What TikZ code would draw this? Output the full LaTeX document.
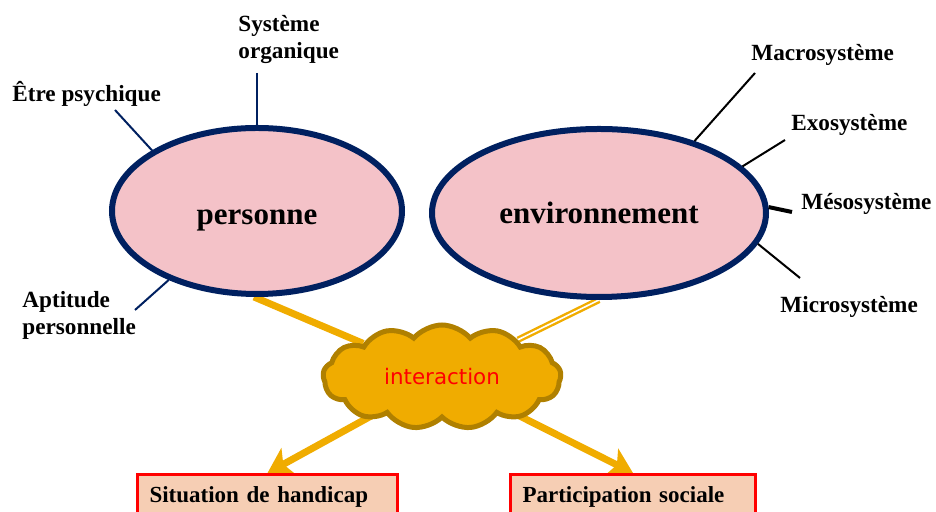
\documentclass[tikz,border=0pt]{standalone}
\usepackage{fontspec}
\setmainfont{Liberation Serif}
\newfontfamily\interfont{DejaVu Sans}
\usetikzlibrary{arrows.meta,shapes.geometric,shapes.symbols,backgrounds}
\definecolor{navyline}{RGB}{0,32,96}
\definecolor{pinkfill}{RGB}{244,194,200}
\definecolor{goldlink}{RGB}{240,172,0}
\definecolor{goldrim}{RGB}{176,128,0}
\definecolor{peachfill}{RGB}{246,206,180}
\newcommand{\lblfont}{\fontsize{11.6}{13.5}\selectfont\bfseries}

\begin{document}
\begin{tikzpicture}[x=0.5pt,y=0.5pt,>={Stealth[length=12pt,width=15pt,inset=3pt]},
  sphere/.style={ellipse,draw=navyline,line width=3pt,fill=pinkfill,font=\fontsize{15.5}{18}\selectfont\bfseries},
  tag/.style={anchor=west,inner sep=0pt,align=left,font=\lblfont},
  outcome/.style={anchor=north,draw=red,line width=1.5pt,fill=peachfill,inner xsep=6pt,inner ysep=3pt,text height=11pt,text depth=14pt,align=left,font=\fontsize{11.5}{13}\selectfont\bfseries},
  link/.style={goldlink,line width=3.5pt},
  leg/.style={navyline,line width=1pt},
  rim/.style={black,line width=1pt}]
\useasboundingbox (0,0) rectangle (936,512);
\node[sphere,minimum width=145pt,minimum height=83pt,text height=14pt,text depth=0pt] (personne) at (257,301) {personne};
\node[sphere,minimum width=167pt,minimum height=84pt] (environnement) at (599,299) {environnement};
\node[cloud,cloud puffs=13,cloud puff arc=100,aspect=2.2,draw=goldrim,line width=2.5pt,fill=goldlink,minimum width=119pt,minimum height=52pt,text=red,font=\interfont\fontsize{10.7}{13}\selectfont] (interaction) at (442,135) {interaction};
\node[outcome,text width=118pt] (situation) at (267.5,39) {Situation de handicap};
\node[outcome,text width=110.5pt] (participation) at (633,39) {Participation sociale};
\node[tag] (organique) at (238,472) {Système\\organique};
\node[tag] (psychique) at (12,418) {Être psychique};
\node[tag] (aptitude) at (22,197) {Aptitude\\personnelle};
\node[tag] (macro) at (751,457) {Macrosystème};
\node[tag] (exo) at (791,387) {Exosystème};
\node[tag] (meso) at (801,308) {Mésosystème};
\node[tag] (micro) at (780,205) {Microsystème};
\coordinate (organiqueend) at (257,439); \coordinate (psychiqueend) at (115,402);
\coordinate (aptitudeend) at (135,202); \coordinate (macroend) at (755,439);
\coordinate (exoend) at (785,372); \coordinate (mesoend) at (792,300);
\coordinate (microend) at (800,234);
\draw[leg] (organiqueend)--(personne.north); \draw[leg] (psychiqueend)--(personne.150);
\draw[leg] (aptitudeend)--(personne.218);
\draw[rim] (macroend)--(environnement.37); \draw[rim] (exoend)--(environnement.18);
\draw[rim,line width=2pt] (mesoend)--(environnement.2); \draw[rim] (microend)--(environnement.349);
\begin{pgfonlayer}{background}
\draw[link] (personne.268)--(interaction);
\draw[goldlink,line width=1.2pt,double=white,double distance=0.8pt] (environnement.south)--(interaction);
\draw[link,->] (interaction.center)--(situation.north);
\draw[link,->] (interaction.center)--(participation.north);
\end{pgfonlayer}
\end{tikzpicture}
\end{document}
